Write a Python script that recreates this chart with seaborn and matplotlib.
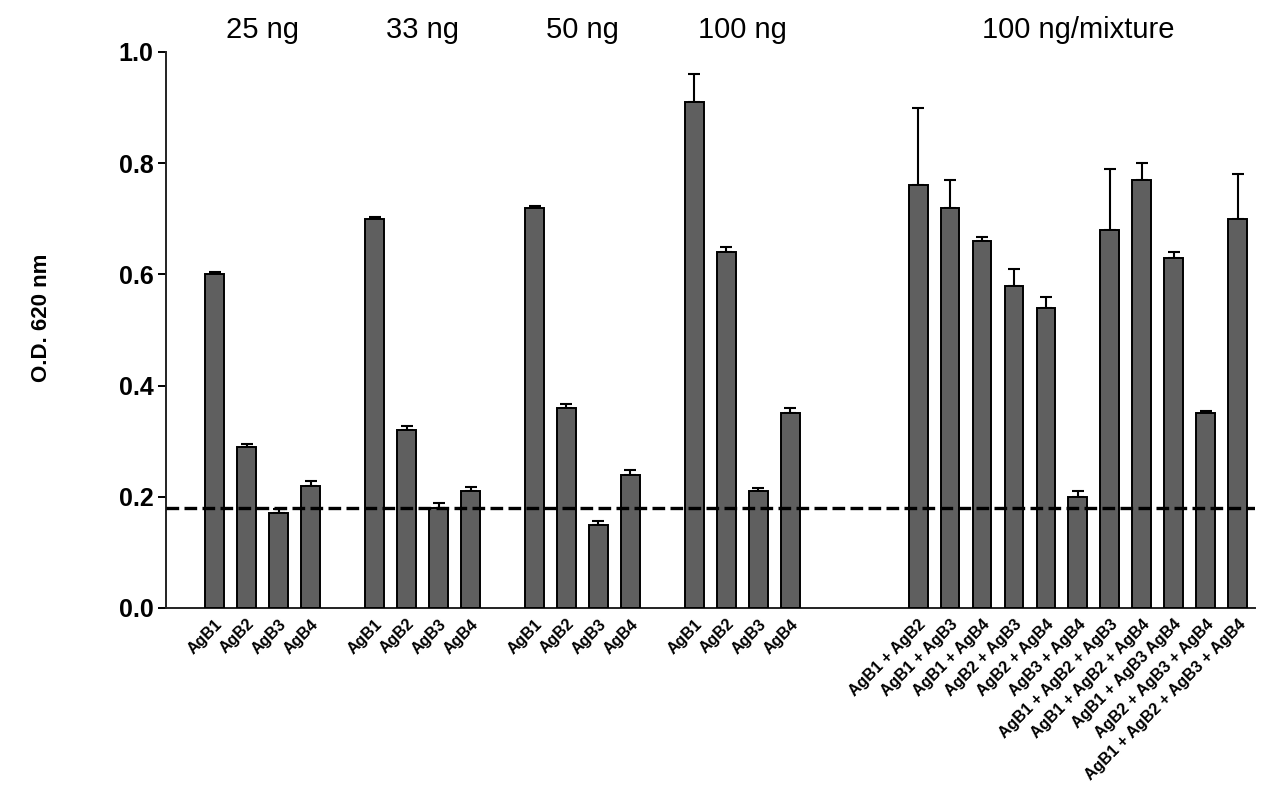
import pandas as pd
import numpy as np
import matplotlib
matplotlib.use("Agg")
import matplotlib.pyplot as plt
import seaborn as sns

# Data
groups = ["25 ng", "33 ng", "50 ng", "100 ng", "100 ng/mixture"]
single_antigens = ["AgB1", "AgB2", "AgB3", "AgB4"]
mixtures = ["AgB1 + AgB2", "AgB1 + AgB3", "AgB1 + AgB4", "AgB2 + AgB3",
            "AgB2 + AgB4", "AgB3 + AgB4", "AgB1 + AgB2 + AgB3",
            "AgB1 + AgB2 + AgB4", "AgB1 + AgB3 AgB4", "AgB2 + AgB3 + AgB4",
            "AgB1 + AgB2 + AgB3 + AgB4"]

od_25 = [0.60, 0.29, 0.17, 0.22]
err_25 = [0.005, 0.005, 0.008, 0.008]
od_33 = [0.70, 0.32, 0.18, 0.21]
err_33 = [0.003, 0.008, 0.008, 0.008]
od_50 = [0.72, 0.36, 0.15, 0.24]
err_50 = [0.003, 0.007, 0.007, 0.008]
od_100 = [0.91, 0.64, 0.21, 0.35]
err_100 = [0.05, 0.01, 0.005, 0.01]
od_mix = [0.76, 0.72, 0.66, 0.58, 0.54, 0.20, 0.68, 0.77, 0.63, 0.35, 0.70]
err_mix = [0.14, 0.05, 0.008, 0.03, 0.02, 0.01, 0.11, 0.03, 0.01, 0.005, 0.08]

cutoff = 0.18

# Build the table
rows = []
for g, vals, errs in [("25 ng", od_25, err_25), ("33 ng", od_33, err_33),
                      ("50 ng", od_50, err_50), ("100 ng", od_100, err_100)]:
    for ag, v, e in zip(single_antigens, vals, errs):
        rows.append({"group": g, "label": ag, "od": v, "err": e})
for ag, v, e in zip(mixtures, od_mix, err_mix):
    rows.append({"group": "100 ng/mixture", "label": ag, "od": v, "err": e})
df = pd.DataFrame(rows)
df["key"] = df["group"] + "|" + df["label"]

# Category order with empty spacer slots between groups
order = []
labels = []
spacers = {"25 ng": 1, "33 ng": 1, "50 ng": 1, "100 ng": 3, "100 ng/mixture": 0}
for g in groups:
    sub = df[df["group"] == g]
    order += list(sub["key"])
    labels += list(sub["label"])
    for i in range(spacers[g]):
        order.append("gap" + g + str(i))
        labels.append("")

# Plot
sns.set_style("ticks")
plt.rcParams["font.family"] = ["Liberation Sans", "DejaVu Sans"]
plt.rcParams["text.color"] = "black"
plt.rcParams["xtick.color"] = "black"
plt.rcParams["ytick.color"] = "black"
plt.rcParams["axes.labelcolor"] = "black"

fig = plt.figure(figsize=(12.61, 7.90), dpi=100)
ax = fig.add_axes([0.1316, 0.2304, 0.8634, 0.7038])

sns.barplot(data=df, x="key", y="od", order=order, color="#5f5f5f",
            saturation=1, edgecolor="black", linewidth=1.4, width=0.59,
            errorbar=None, ax=ax, zorder=3)

# upper-only error bars on top of each bar
err_lookup = dict(zip(df["key"], df["err"]))
xs, ys, es = [], [], []
for p in ax.patches:
    xc = p.get_x() + p.get_width() / 2
    key = order[int(round(xc))]
    xs.append(xc)
    ys.append(p.get_height())
    es.append(err_lookup[key])
ax.errorbar(xs, ys, yerr=[np.zeros(len(es)), es], fmt="none",
            ecolor="black", elinewidth=1.5, capsize=4, capthick=1.5, zorder=2)

# cutoff line
ax.axhline(cutoff, color="black", linewidth=2.4, dashes=(3.8, 1.6), zorder=4)

# group titles over each block of bars
for g in groups:
    pos = [order.index(k) for k in df.loc[df["group"] == g, "key"]]
    ax.text(np.mean(pos), 1.04, g, transform=ax.get_xaxis_transform(),
            ha="center", va="center", fontsize=21)

ax.set_xlim(-1.53, len(order) - 0.47)
ax.set_ylim(0, 1.0)
ax.set_yticks(np.arange(0, 1.01, 0.2))
ax.set_yticklabels([f"{t:.1f}" for t in np.arange(0, 1.01, 0.2)],
                   fontsize=18, fontweight="bold")
ax.set_xticks(range(len(order)))
ax.set_xticklabels(labels, rotation=45, ha="right", rotation_mode="anchor",
                   fontsize=11.5, fontweight="bold")
ax.tick_params(axis="x", length=0, pad=6)
ax.tick_params(axis="y", length=6, width=1.4, pad=3)
ax.set_xlabel("")
ax.set_ylabel("O.D. 620 nm", fontsize=16, fontweight="bold")
ax.yaxis.set_label_coords(-0.105, 0.522)

for s in ["top", "right"]:
    ax.spines[s].set_visible(False)
for s in ["left", "bottom"]:
    ax.spines[s].set_linewidth(1.4)
    ax.spines[s].set_color("#222222")

plt.savefig("out.png", dpi=100)
